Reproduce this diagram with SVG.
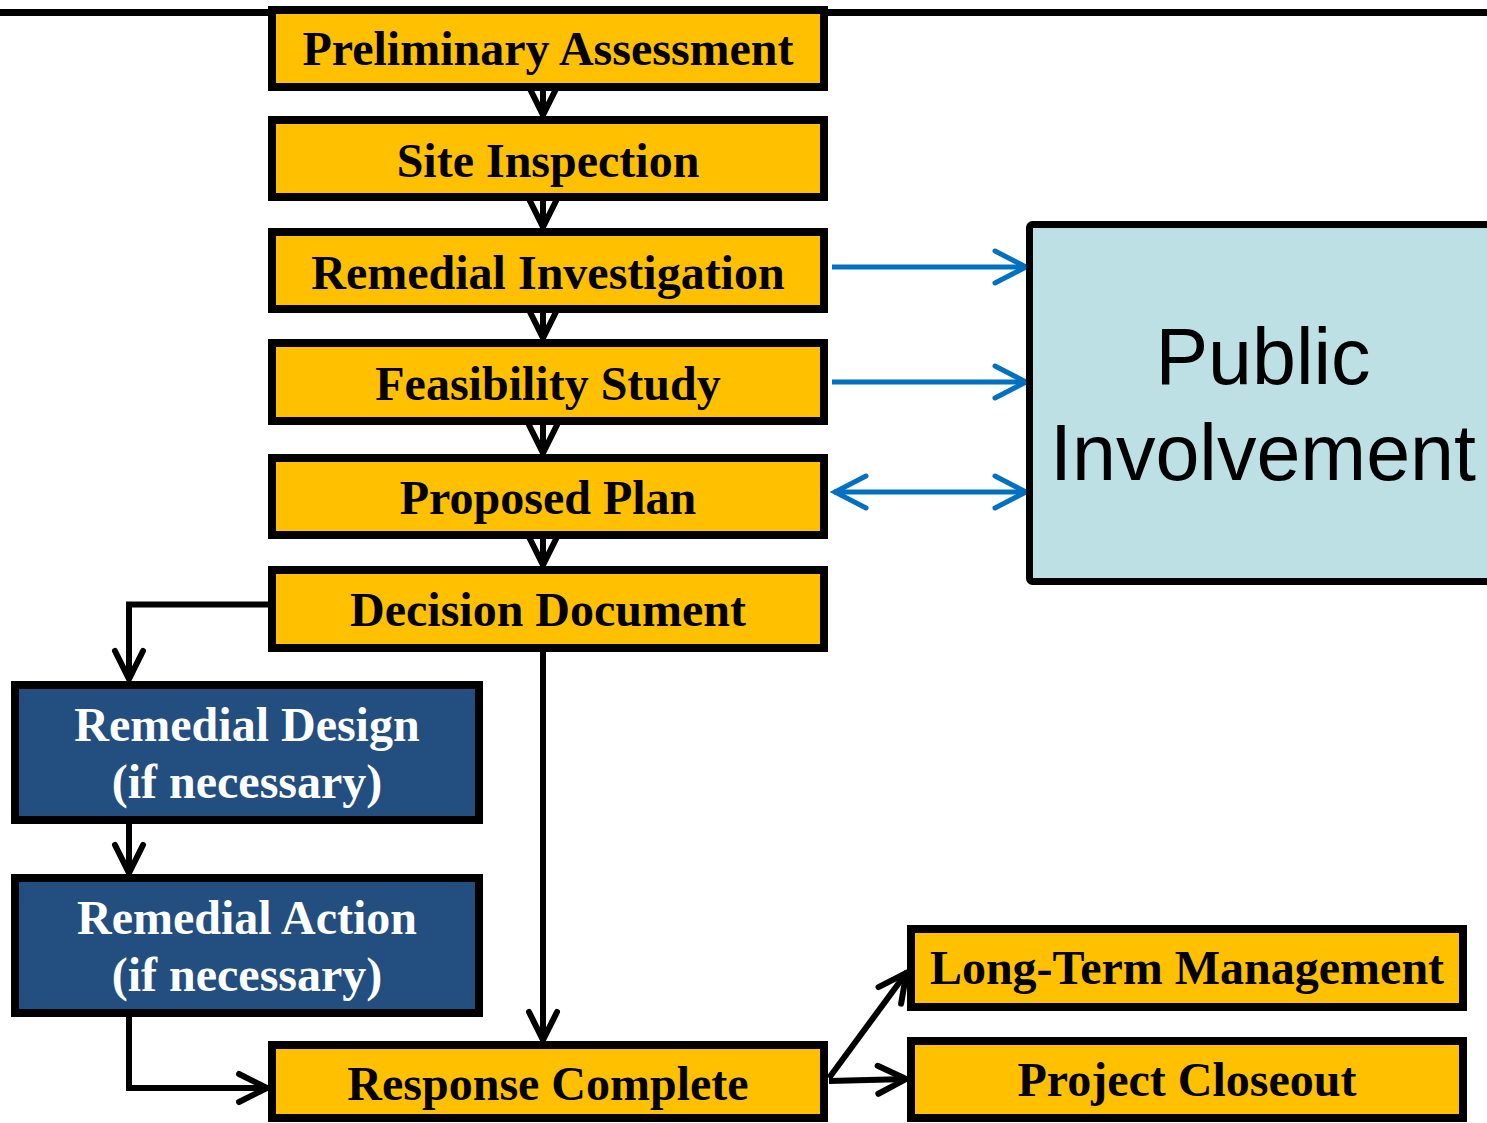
<svg xmlns="http://www.w3.org/2000/svg" width="1487" height="1123" viewBox="0 0 1487 1123">
<style>
.y{fill:#FFC000;stroke:#000;stroke-width:8}
.b{fill:#234E80;stroke:#000;stroke-width:8}
.p{fill:#BCE0E4;stroke:#000;stroke-width:7}
.t{font-family:"Liberation Serif","Times New Roman",serif;font-weight:bold;font-size:48px;text-anchor:middle;fill:#000}
.w{fill:#fff}
.s{font-family:"Liberation Sans",Arial,sans-serif;font-size:79px;text-anchor:middle;fill:#000}
.k{fill:none;stroke:#000;stroke-width:6}
.u{fill:none;stroke:#0070C0;stroke-width:5}
</style>
<defs>
<marker id="ak" markerUnits="userSpaceOnUse" orient="auto" overflow="visible" markerWidth="1" markerHeight="1" refX="0" refY="0">
<path d="M-29,-14 L-1,0 L-29,14" fill="none" stroke="#000" stroke-width="6" stroke-linecap="round"/>
</marker>
<marker id="au" markerUnits="userSpaceOnUse" orient="auto-start-reverse" overflow="visible" markerWidth="1" markerHeight="1" refX="0" refY="0">
<path d="M-32,-16 L-1,0 L-32,16" fill="none" stroke="#0070C0" stroke-width="5" stroke-linecap="round"/>
</marker>
</defs>
<line x1="0" y1="12.5" x2="1487" y2="12.5" stroke="#000" stroke-width="7"/>
<g id="connectors">
<line class="k" x1="543" y1="88" x2="543" y2="116" marker-end="url(#ak)"/>
<line class="k" x1="543" y1="198" x2="543" y2="228" marker-end="url(#ak)"/>
<line class="k" x1="543" y1="310" x2="543" y2="339" marker-end="url(#ak)"/>
<line class="k" x1="543" y1="422" x2="543" y2="454" marker-end="url(#ak)"/>
<line class="k" x1="543" y1="536" x2="543" y2="566" marker-end="url(#ak)"/>
<polyline class="k" points="270,604.5 129,604.5 129,680" marker-end="url(#ak)"/>
<line class="k" x1="129" y1="822" x2="129" y2="874" marker-end="url(#ak)"/>
<polyline class="k" points="129,1015 129,1088 268,1088" marker-end="url(#ak)"/>
<line class="k" x1="543" y1="650" x2="543" y2="1041" marker-end="url(#ak)"/>
<line class="k" x1="829" y1="1078" x2="907" y2="972" marker-end="url(#ak)"/>
<line class="k" x1="829" y1="1081" x2="907" y2="1079" marker-end="url(#ak)"/>
<line class="u" x1="832" y1="267" x2="1027" y2="267" marker-end="url(#au)"/>
<line class="u" x1="832" y1="382" x2="1027" y2="382" marker-end="url(#au)"/>
<line class="u" x1="834" y1="492" x2="1027" y2="492" marker-start="url(#au)" marker-end="url(#au)"/>
</g>
<g id="n1"><rect class="y" x="272" y="10" width="552" height="77"/><text class="t" x="548" y="65">Preliminary Assessment</text></g>
<g id="n2"><rect class="y" x="272" y="120" width="552" height="77"/><text class="t" x="548" y="177">Site Inspection</text></g>
<g id="n3"><rect class="y" x="272" y="232" width="552" height="77"/><text class="t" x="548" y="289">Remedial Investigation</text></g>
<g id="n4"><rect class="y" x="272" y="343" width="552" height="78"/><text class="t" x="548" y="400">Feasibility Study</text></g>
<g id="n5"><rect class="y" x="272" y="458" width="552" height="77"/><text class="t" x="548" y="514">Proposed Plan</text></g>
<g id="n6"><rect class="y" x="272" y="570" width="552" height="78"/><text class="t" x="548" y="626">Decision Document</text></g>
<g id="n7"><rect class="b" x="15" y="685" width="464" height="135"/><text class="t w" x="247" y="741">Remedial Design</text><text class="t w" x="247" y="798">(if necessary)</text></g>
<g id="n8"><rect class="b" x="15" y="878" width="464" height="135"/><text class="t w" x="247" y="934">Remedial Action</text><text class="t w" x="247" y="991">(if necessary)</text></g>
<g id="n9"><rect class="y" x="272" y="1045" width="552" height="73"/><text class="t" x="548" y="1100">Response Complete</text></g>
<g id="n10"><rect class="y" x="911" y="929" width="552" height="78"/><text class="t" x="1187" y="984">Long-Term Management</text></g>
<g id="n11"><rect class="y" x="911" y="1041" width="552" height="77"/><text class="t" x="1187" y="1096">Project Closeout</text></g>
<g id="n12"><rect class="p" x="1029.5" y="224.5" width="500" height="357" rx="3"/><text class="s" x="1263" y="384">Public</text><text class="s" x="1263" y="480">Involvement</text></g>
</svg>
